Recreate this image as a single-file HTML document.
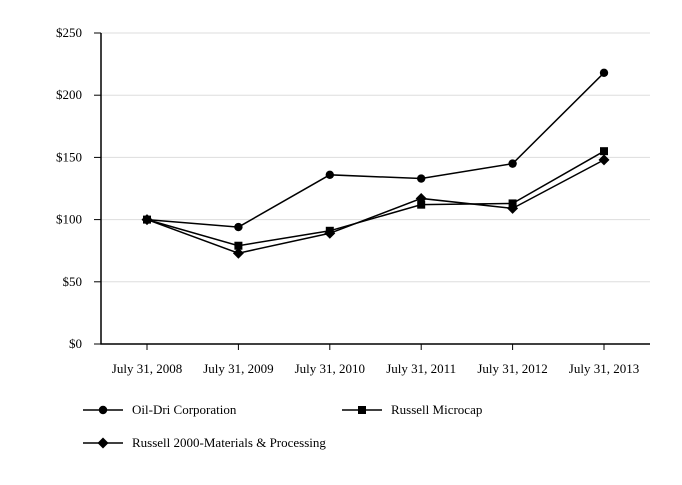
<!DOCTYPE html>
<html><head><meta charset="utf-8"><style>
body{margin:0;background:#fff}
svg text{font-family:"Liberation Serif",serif;font-size:13px;fill:#000}
</style></head><body>
<svg id="c" width="682" height="480"></svg>
<script>
const categories=["July 31, 2008","July 31, 2009","July 31, 2010","July 31, 2011","July 31, 2012","July 31, 2013"];
const oilDri=[100,94,136,133,145,218];
const microcap=[100,79,91,112,113,155];
const materials=[100,73,89,117,109,148];
const yTicks=[0,50,100,150,200,250];
const yLabels=["$0","$50","$100","$150","$200","$250"];
const NS="http://www.w3.org/2000/svg",svg=document.getElementById('c');
function mk(t,a,p){const e=document.createElementNS(NS,t);for(const k in a)e.setAttribute(k,a[k]);(p||svg).appendChild(e);return e;}
const x0=101,x1=650,yb=344,yt=33;
const xs=i=>147+i*(604-147)/(categories.length-1);
const ys=v=>yb-(v/250)*(yb-yt);
yTicks.forEach((v,i)=>{
 if(v>0){const g=mk('line',{x1:x0,x2:x1,y1:ys(v),y2:ys(v),stroke:'#ddd','stroke-width':1});
 }
 const tk=mk('line',{x1:94,x2:x0,y1:ys(v),y2:ys(v),stroke:'#000'});
 
 const t=mk('text',{x:82,y:ys(v)+4,'text-anchor':'end'});t.textContent=yLabels[i];
 
});
const ax=mk('path',{d:`M${x0} ${yt}V${yb}H${x1}`,stroke:'#000','stroke-width':1.5,fill:'none'});

categories.forEach((c,i)=>{
 const tk=mk('line',{x1:xs(i),x2:xs(i),y1:yb,y2:yb+6,stroke:'#000'});
 
 const t=mk('text',{x:xs(i),y:373,'text-anchor':'middle'});t.textContent=c;
 
});
function marker(type,x,y,p){
 let e;
 if(type==='circle')e=mk('circle',{cx:x,cy:y,r:4.2,fill:'#000'},p);
 else if(type==='square')e=mk('rect',{x:x-4,y:y-4,width:8,height:8,fill:'#000'},p);
 else e=mk('path',{d:`M${x} ${y-5.5}L${x+5.5} ${y}L${x} ${y+5.5}L${x-5.5} ${y}Z`,fill:'#000'},p);
 
}
const series=[[oilDri,'circle','oil-dri'],[microcap,'square','russell-microcap'],[materials,'diamond','russell-materials']];
series.forEach(([d,m,n])=>{
 const g=mk('g',{});
 const l=mk('polyline',{points:d.map((v,i)=>xs(i)+','+ys(v)).join(' '),fill:'none',stroke:'#000','stroke-width':1.5},g);
 
 d.forEach((v,i)=>marker(m,xs(i),ys(v),g));
});
const leg=[["Oil-Dri Corporation",'circle',83,410],["Russell Microcap",'square',342,410],["Russell 2000-Materials & Processing",'diamond',83,443]];
leg.forEach(([t,m,x,y])=>{
 const g=mk('g',{});
 mk('line',{x1:x,x2:x+40,y1:y,y2:y,stroke:'#000','stroke-width':1.5},g);
 marker(m,x+20,y,g);
 const tx=mk('text',{x:x+49,y:y+4},g);tx.textContent=t;
 
});
</script>
</body></html>
